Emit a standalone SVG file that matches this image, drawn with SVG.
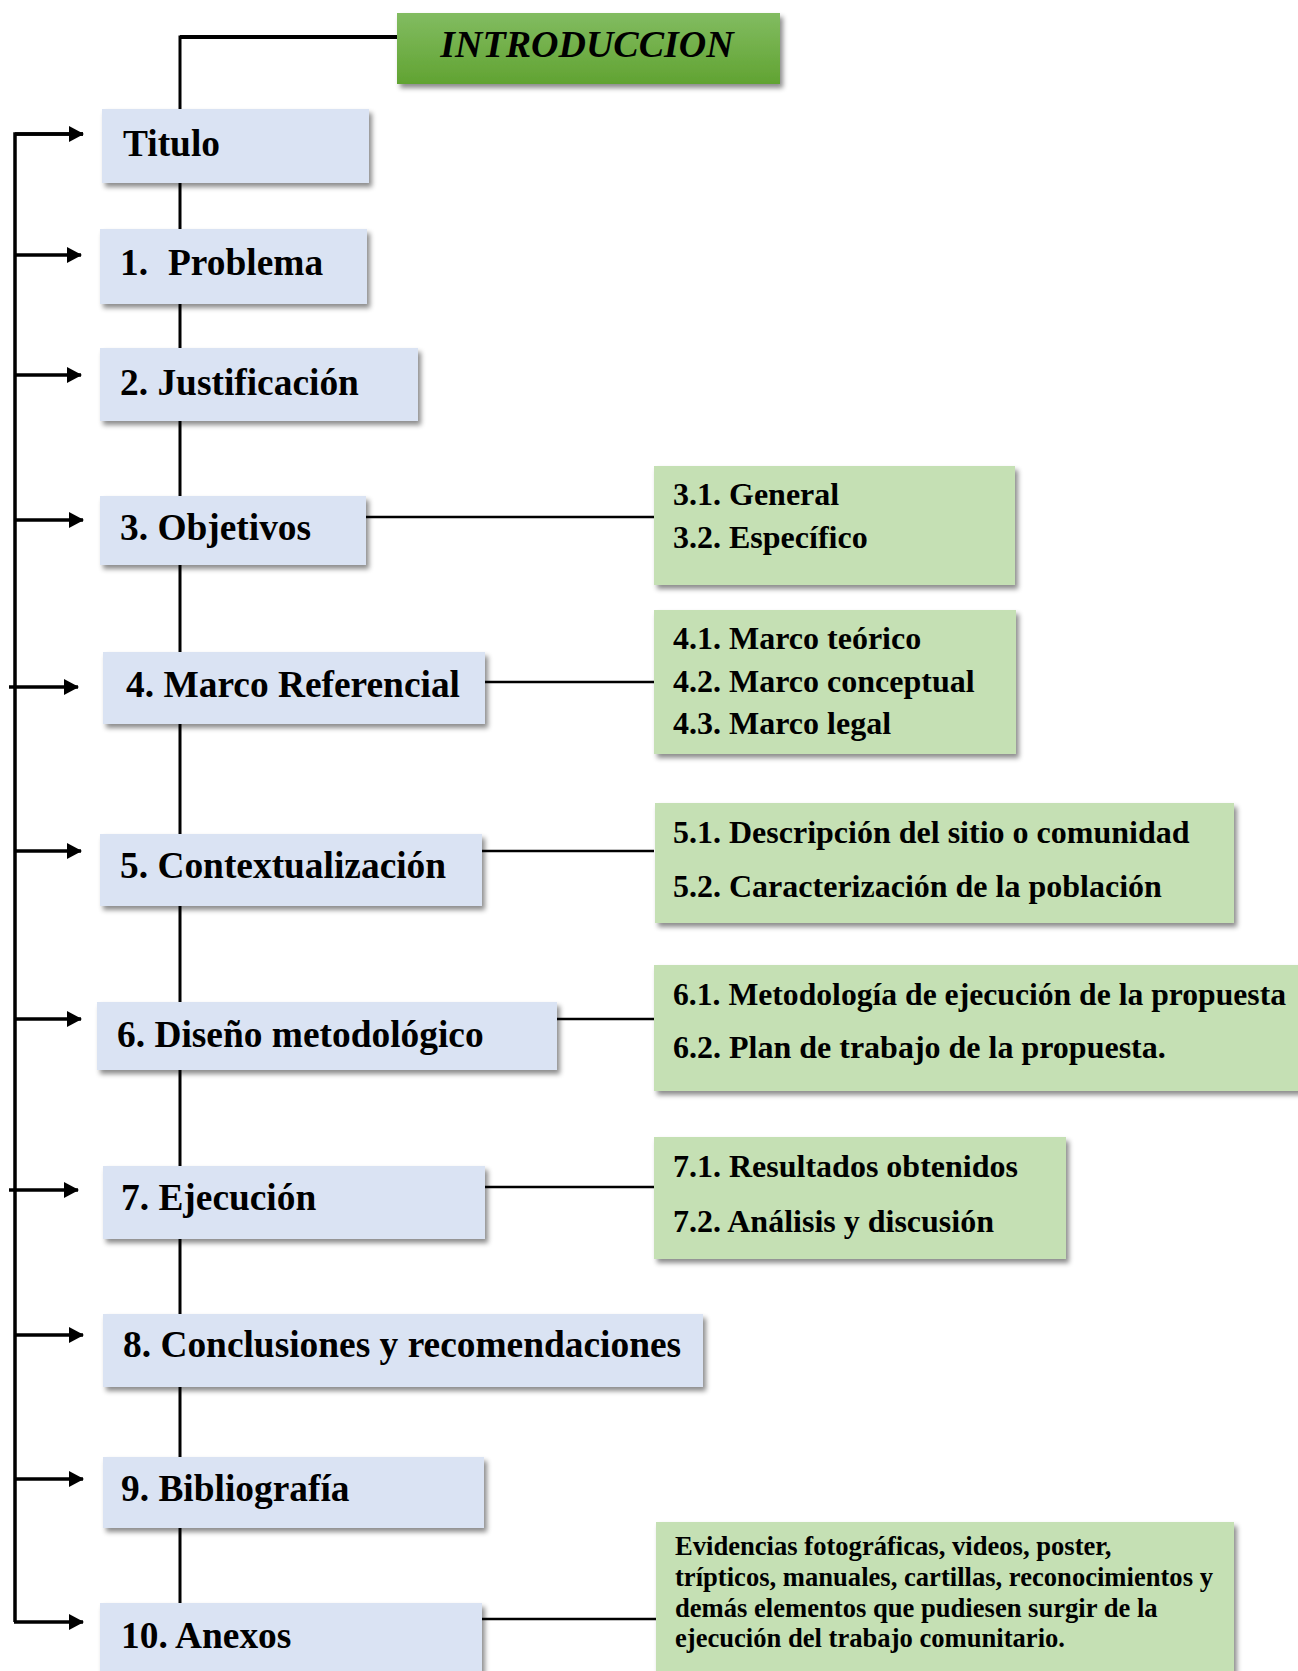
<svg xmlns="http://www.w3.org/2000/svg" width="1298" height="1671" viewBox="0 0 1298 1671">
<defs>
<style>
.main{fill:#dae3f3;filter:url(#sh)}
.sub{fill:#c5e0b4;filter:url(#sh)}
.t{font-family:"Liberation Serif","Times New Roman",serif;font-weight:bold;fill:#000}
.tm{font-size:37.4px}
.ts{font-size:32px}
.te{font-size:26.6px}
.ln{stroke:#000;stroke-width:3;fill:none}
.ar{stroke:#000;stroke-width:3.5;fill:none;marker-end:url(#ah)}
</style>
<filter id="sh" x="-10%" y="-20%" width="130%" height="150%">
<feDropShadow dx="3" dy="4" stdDeviation="2.5" flood-color="#000" flood-opacity="0.45"/>
</filter>
<linearGradient id="gi" x1="0" y1="0" x2="0" y2="1">
<stop offset="0" stop-color="#82bc61"/>
<stop offset="1" stop-color="#61a332"/>
</linearGradient>
<marker id="ah" markerUnits="userSpaceOnUse" markerWidth="16" markerHeight="16" refX="14" refY="8" orient="auto">
<path d="M0,0 L15,8 L0,16 z" fill="#000"/>
</marker>
</defs>
<rect width="1298" height="1671" fill="#fff"/>

<g id="connectors">
<polyline class="ln" points="180,1610 180,37 397,37" style="stroke-width:3"/>
<line class="ln" x1="180" y1="37" x2="397" y2="37" style="stroke-width:4"/>
<polyline class="ln" points="83,134 15,134 15,1622" style="stroke-width:3.5"/>
<line class="ar" x1="15" y1="134" x2="83" y2="134"/>
<line class="ar" x1="15" y1="255" x2="81" y2="255"/>
<line class="ar" x1="15" y1="375" x2="81" y2="375"/>
<line class="ar" x1="15" y1="520" x2="83" y2="520"/>
<line class="ar" x1="9" y1="687" x2="78" y2="687"/>
<line class="ar" x1="15" y1="851" x2="81" y2="851"/>
<line class="ar" x1="15" y1="1019" x2="81" y2="1019"/>
<line class="ar" x1="9" y1="1190" x2="78" y2="1190"/>
<line class="ar" x1="15" y1="1335" x2="83" y2="1335"/>
<line class="ar" x1="15" y1="1479" x2="83" y2="1479"/>
<line class="ar" x1="14" y1="1622" x2="83" y2="1622"/>
<line class="ln" x1="366" y1="517" x2="654" y2="517" style="stroke-width:2.5"/>
<line class="ln" x1="485" y1="682" x2="654" y2="682" style="stroke-width:2.5"/>
<line class="ln" x1="482" y1="851" x2="654" y2="851" style="stroke-width:2.5"/>
<line class="ln" x1="557" y1="1019" x2="654" y2="1019" style="stroke-width:2.5"/>
<line class="ln" x1="485" y1="1187" x2="654" y2="1187" style="stroke-width:2.5"/>
<line class="ln" x1="482" y1="1619" x2="656" y2="1619" style="stroke-width:2.5"/>
</g>

<g id="intro">
<rect x="397" y="13" width="383" height="71" fill="url(#gi)" filter="url(#sh)"/>
<text class="t" x="587" y="57" text-anchor="middle" font-size="38" font-style="italic">INTRODUCCION</text>
</g>

<g id="titulo">
<rect class="main" x="102" y="109" width="267" height="74"/>
<text class="t tm" x="123" y="156">Titulo</text>
</g>
<g id="problema">
<rect class="main" x="100" y="229" width="267" height="75"/>
<text class="t tm" y="275"><tspan x="120">1.</tspan><tspan x="168">Problema</tspan></text>
</g>
<g id="justificacion">
<rect class="main" x="100" y="348" width="318" height="73"/>
<text class="t tm" x="120" y="395">2. Justificación</text>
</g>
<g id="objetivos">
<rect class="main" x="100" y="496" width="266" height="69"/>
<text class="t tm" x="120" y="540">3. Objetivos</text>
</g>
<g id="marco">
<rect class="main" x="103" y="652" width="382" height="72"/>
<text class="t tm" x="126" y="697">4. Marco Referencial</text>
</g>
<g id="contextualizacion">
<rect class="main" x="100" y="834" width="382" height="72"/>
<text class="t tm" x="120" y="878">5. Contextualización</text>
</g>
<g id="diseno">
<rect class="main" x="97" y="1002" width="460" height="68"/>
<text class="t tm" x="117" y="1047">6. Diseño metodológico</text>
</g>
<g id="ejecucion">
<rect class="main" x="103" y="1166" width="382" height="73"/>
<text class="t tm" x="121" y="1210">7. Ejecución</text>
</g>
<g id="conclusiones">
<rect class="main" x="103" y="1314" width="600" height="73"/>
<text class="t tm" x="123" y="1357">8. Conclusiones y recomendaciones</text>
</g>
<g id="bibliografia">
<rect class="main" x="103" y="1457" width="381" height="71"/>
<text class="t tm" x="121" y="1501">9. Bibliografía</text>
</g>
<g id="anexos">
<rect class="main" x="100" y="1603" width="382" height="90"/>
<text class="t tm" x="121" y="1648">10. Anexos</text>
</g>

<g id="sub3">
<rect class="sub" x="654" y="466" width="361" height="119"/>
<text class="t ts" x="673" y="505">3.1. General</text>
<text class="t ts" x="673" y="548">3.2. Específico</text>
</g>
<g id="sub4">
<rect class="sub" x="654" y="610" width="362" height="144"/>
<text class="t ts" x="673" y="649">4.1. Marco teórico</text>
<text class="t ts" x="673" y="692">4.2. Marco conceptual</text>
<text class="t ts" x="673" y="734">4.3. Marco legal</text>
</g>
<g id="sub5">
<rect class="sub" x="655" y="803" width="579" height="120"/>
<text class="t ts" x="673" y="843">5.1. Descripción del sitio o comunidad</text>
<text class="t ts" x="673" y="897">5.2. Caracterización de la población</text>
</g>
<g id="sub6">
<rect class="sub" x="654" y="965" width="660" height="126"/>
<text class="t ts" x="673" y="1005" textLength="613" lengthAdjust="spacingAndGlyphs">6.1. Metodología de ejecución de la propuesta</text>
<text class="t ts" x="673" y="1058">6.2. Plan de trabajo de la propuesta.</text>
</g>
<g id="sub7">
<rect class="sub" x="654" y="1137" width="412" height="122"/>
<text class="t ts" x="673" y="1177">7.1. Resultados obtenidos</text>
<text class="t ts" x="673" y="1232">7.2. Análisis y discusión</text>
</g>
<g id="sub10">
<rect class="sub" x="656" y="1522" width="578" height="170"/>
<text class="t te" x="675" y="1555">Evidencias fotográficas, videos, poster,</text>
<text class="t te" x="675" y="1586">trípticos, manuales, cartillas, reconocimientos y</text>
<text class="t te" x="675" y="1617">demás elementos que pudiesen surgir de la</text>
<text class="t te" x="675" y="1647">ejecución del trabajo comunitario.</text>
</g>
</svg>
